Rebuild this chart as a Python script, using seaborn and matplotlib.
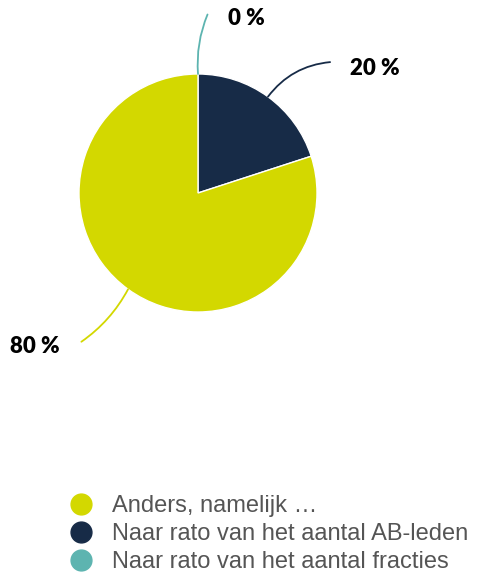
import numpy as np
import matplotlib
matplotlib.use("Agg")
import matplotlib.pyplot as plt
from matplotlib.lines import Line2D
import seaborn as sns

# data (wedge order: clockwise from top)
categories = ["Naar rato van het aantal fracties", "Naar rato van het aantal AB-leden", "Anders, namelijk …"]
values = [0, 20, 80]
pct_labels = ["0 %", "20 %", "80 %"]
colors = ["#5db4b0", "#172b47", "#d3d800"]
legend_order = [2, 1, 0]

sns.set_theme(style="white")
plt.rcParams['font.family'] = ['Lato', 'DejaVu Sans']

W, H = 479, 579
fig = plt.figure(figsize=(W / 100, H / 100), dpi=100)
# pie centre ~ (198,193) px, radius ~119 px
cx, cy, r = 198, 193, 119
ax = fig.add_axes([(cx - r) / W, (H - cy - r) / H, 2 * r / W, 2 * r / H])

wedges, _ = ax.pie(values, colors=colors, startangle=90, counterclock=False,
                   wedgeprops=dict(edgecolor="white", linewidth=1.0))
ax.set_xlim(-1, 1)
ax.set_ylim(-1, 1)
ax.set_aspect("equal")
ax.axis("off")

# leader lines and labels
line_end = [(0.08, 1.50), (1.11, 1.10), (-0.98, -1.25)]
text_pos = [(0.25, 1.47), (1.28, 1.05), (-1.16, -1.29)]
text_ha = ["left", "left", "right"]
rads = [0.12, 0.22, 0.12]
for w, le, tp, ha, rad, lab, col in zip(wedges, line_end, text_pos, text_ha, rads, pct_labels, colors):
    ang = np.deg2rad((w.theta1 + w.theta2) / 2)
    start = (np.cos(ang), np.sin(ang))
    ax.annotate("", xy=start, xytext=le, annotation_clip=False,
                arrowprops=dict(arrowstyle="-", color=col, lw=1.3,
                                connectionstyle=f"arc3,rad={rad}",
                                shrinkA=0, shrinkB=0))
    ax.text(tp[0], tp[1], lab, ha=ha, va="center", fontsize=16,
            fontweight="heavy", color="black")

handles = [Line2D([], [], marker="o", linestyle="", markersize=15,
                  markerfacecolor=colors[i], markeredgecolor=colors[i]) for i in legend_order]
labels = [categories[i] for i in legend_order]
fig.legend(handles, labels, loc="upper left", bbox_to_anchor=(66 / W, 1 - 495 / H),
           frameon=False, prop=dict(family="Liberation Sans", size=17),
           labelcolor="#555555", handletextpad=0.63, labelspacing=0.25,
           borderpad=0, borderaxespad=0, handlelength=1.3)

fig.savefig("out.png", dpi=100)
